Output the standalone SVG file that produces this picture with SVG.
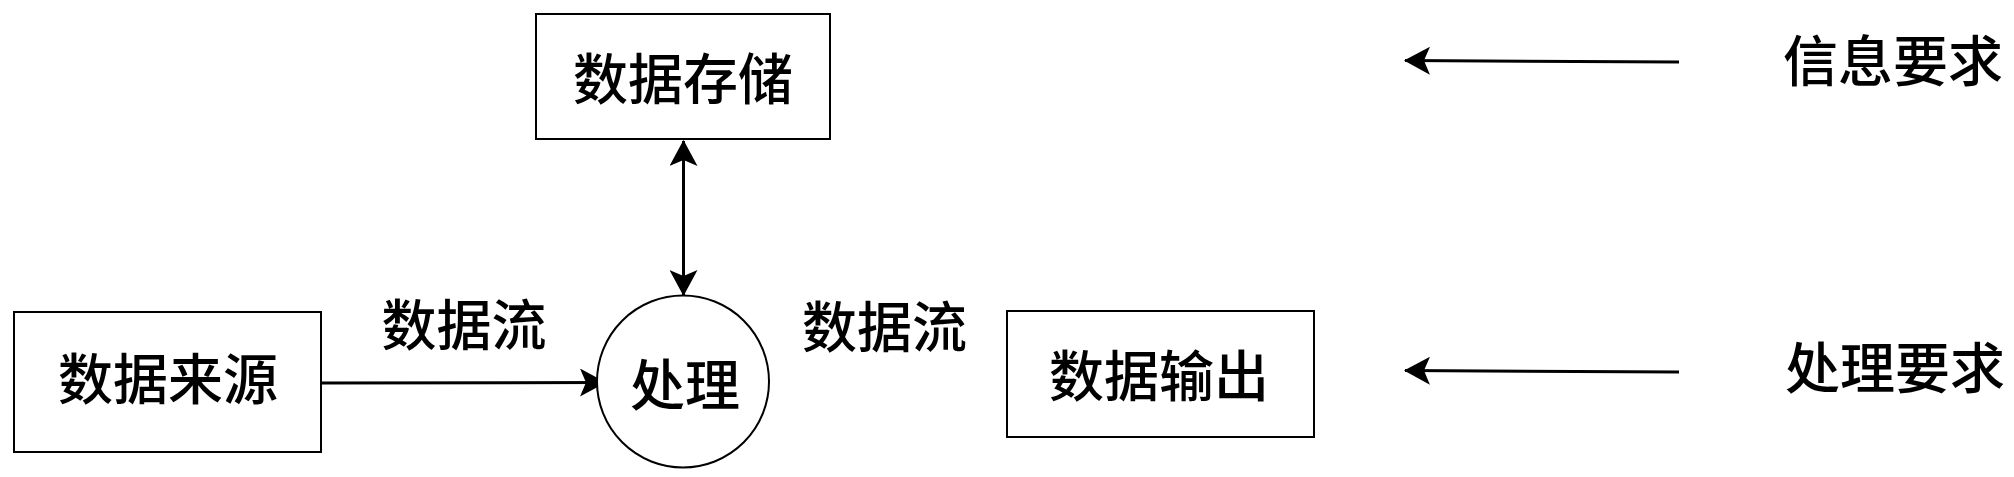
<svg xmlns="http://www.w3.org/2000/svg" width="2014" height="477" viewBox="0 0 2014 477">
<style>
.box{fill:#fff;stroke:#000;stroke-width:2}
.t{font-family:"Noto Sans CJK SC","Noto Sans CJK JP",sans-serif;font-size:55px;font-weight:500;fill:#000;text-anchor:middle}
.c{fill:none;stroke:#000;stroke-width:3}
</style>
<defs>
<marker id="ah" viewBox="0 0 26 28" refX="25" refY="14" markerWidth="26" markerHeight="28" markerUnits="userSpaceOnUse" orient="auto-start-reverse">
<path d="M0,0 L26,14 L0,28 L6,14 Z" fill="#000"/>
</marker>
</defs>
<rect width="2014" height="477" fill="#fff"/>
<g id="connectors">
<line class="c" x1="683.5" y1="141" x2="683.5" y2="295" marker-start="url(#ah)" marker-end="url(#ah)"/>
<line class="c" x1="321" y1="383" x2="605" y2="382.5" marker-end="url(#ah)"/>
<line class="c" x1="1679" y1="62" x2="1405" y2="60.5" stroke-width="4" marker-end="url(#ah)"/>
<line class="c" x1="1679" y1="372" x2="1405" y2="370.5" stroke-width="4" marker-end="url(#ah)"/>
</g>
<g id="store">
<rect class="box" x="536" y="14" width="294" height="125"/>
<text class="t" x="683" y="99">数据存储</text>
</g>
<g id="source">
<rect class="box" x="14" y="312" width="307" height="140"/>
<text class="t" x="168" y="399">数据来源</text>
</g>
<g id="process">
<circle cx="683" cy="381.5" r="86" fill="#fff" stroke="#000" stroke-width="2"/>
<text class="t" x="685" y="405">处理</text>
</g>
<g id="output">
<rect class="box" x="1007" y="311" width="307" height="126"/>
<text class="t" x="1159" y="396">数据输出</text>
</g>
<g id="labels">
<text class="t" x="464" y="345">数据流</text>
<text class="t" x="884.5" y="347">数据流</text>
<text class="t" x="1893" y="81">信息要求</text>
<text class="t" x="1895" y="388">处理要求</text>
</g>
</svg>
